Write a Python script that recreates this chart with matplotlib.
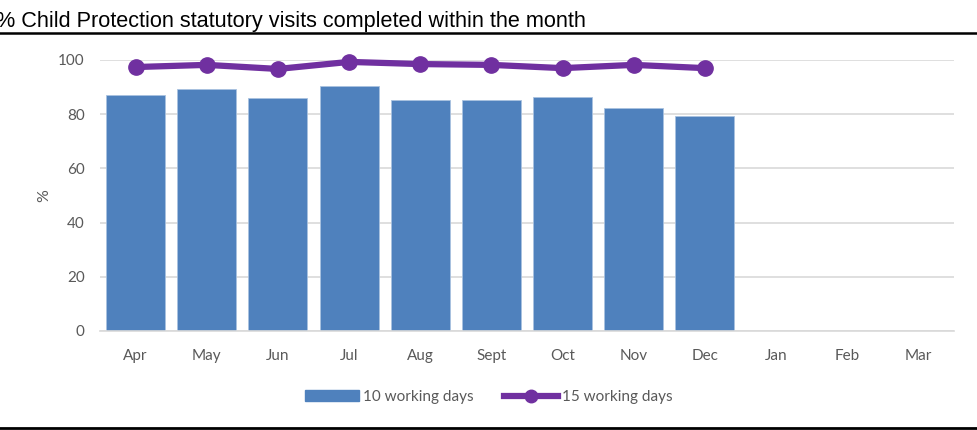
import matplotlib
matplotlib.use('Agg')
import matplotlib.pyplot as plt
from matplotlib.lines import Line2D
import numpy as np

months = ['Apr', 'May', 'Jun', 'Jul', 'Aug', 'Sept', 'Oct', 'Nov', 'Dec', 'Jan', 'Feb', 'Mar']
ten_days = [87.1, 89.3, 86.0, 90.4, 85.2, 85.2, 86.3, 82.3, 79.3]
fifteen_days = [97.4, 98.2, 96.7, 99.3, 98.5, 98.2, 97.0, 98.2, 97.0]

bar_color = '#4F81BD'
line_color = '#7030A0'
tick_color = '#595959'

fig = plt.figure(figsize=(9.78, 4.30), dpi=100)
ax = fig.add_axes([100 / 978, 99 / 430, 854 / 978, 271 / 430])

x = np.arange(len(months))
ax.bar(x[:len(ten_days)], ten_days, width=0.83, color=bar_color,
       edgecolor='#A9C2E0', linewidth=0.6, zorder=2, label='10 working days')
ax.plot(x[:len(fifteen_days)], fifteen_days, color=line_color, lw=4.5,
        marker='o', markersize=11, zorder=3, clip_on=False, label='15 working days')

ax.set_xlim(-0.5, len(months) - 0.5)
ax.set_ylim(0, 100)
ax.set_yticks([0, 20, 40, 60, 80, 100])
ax.set_xticks(x)
ax.set_xticklabels(months)
ax.grid(axis='y', color='#D9D9D9', lw=1.2, zorder=0)
ax.set_axisbelow(True)
for s in ['top', 'right', 'left']:
    ax.spines[s].set_visible(False)
ax.spines['bottom'].set_color('#D9D9D9')
ax.spines['bottom'].set_linewidth(1.2)
ax.tick_params(length=0, colors=tick_color, labelsize=11)
ax.tick_params(axis='x', pad=13)
ax.tick_params(axis='y', pad=11)
for lbl in ax.get_xticklabels() + ax.get_yticklabels():
    lbl.set_family('Lato')
ax.set_ylabel('%', color=tick_color, fontsize=11.5, family='Lato', labelpad=5)

handles = [plt.Rectangle((0, 0), 1, 1, color=bar_color),
           Line2D([], [], color=line_color, lw=4.5, marker='o', markersize=9)]
fig.legend(handles, ['10 working days', '15 working days'], loc='center',
           bbox_to_anchor=(0.5, 33 / 430), ncol=2, frameon=False,
           prop={'family': 'Lato', 'size': 11}, labelcolor=tick_color,
           handlelength=3.5, handletextpad=0.3, columnspacing=2.0)

# title with rule underneath
fig.text(-0.004, 1 - 22 / 430, '% Child Protection statutory visits completed within the month',
         fontsize=15.6, family='Liberation Sans', va='center', ha='left')
fig.add_artist(Line2D([0, 1], [1 - 33 / 430, 1 - 33 / 430], color='black', lw=1.8))
fig.add_artist(Line2D([0, 1], [1 - 428 / 430, 1 - 428 / 430], color='black', lw=2))

fig.savefig('out.png', dpi=100)
